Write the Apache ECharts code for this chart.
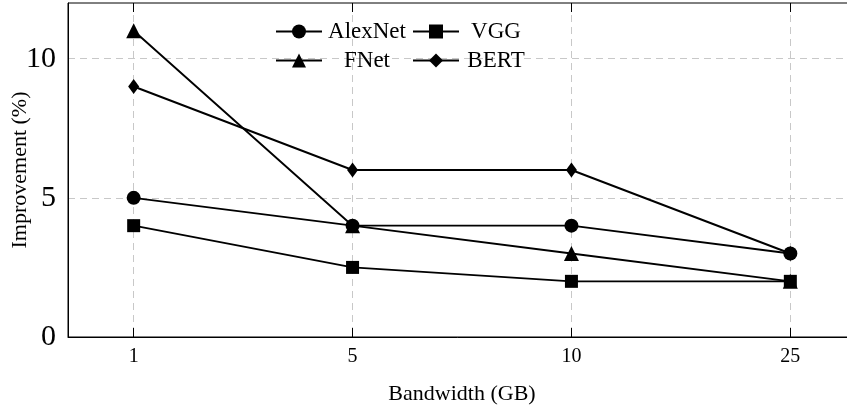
<!DOCTYPE html>
<html>
<head>
<meta charset="utf-8">
<script src="https://cdn.jsdelivr.net/npm/echarts@6/dist/echarts.min.js"></script>
<style>
html,body{margin:0;padding:0;background:#fff;}
#chart{width:847px;height:412px;}
</style>
</head>
<body>
<div id="chart"></div>
<script>
const categories = ['1', '5', '10', '25'];
const alexnet = [5, 4, 4, 3];
const vgg = [4, 2.5, 2, 2];
const fnet = [11, 4, 3, 2];
const bert = [9, 6, 6, 3];
const yTicks = [0, 5, 10];
const xIdx = categories.map((c, i) => i);

const FONT = '"Liberation Serif", "Times New Roman", serif';
const chart = echarts.init(document.getElementById('chart'), null, {renderer: 'canvas'});

function pts(arr) { return arr.map((v, i) => [i, v]); }
const lineStyle = {color: '#000', width: 1.9};
function mk(name, data, symbol, size) {
  return {
    name: name, type: 'line', data: pts(data), symbol: symbol, symbolSize: size,
    lineStyle: lineStyle, itemStyle: {color: '#000'}, color: '#000',
    showSymbol: true, animation: false, z: 3
  };
}
function legendItem(name, left, top, textWidth) {
  return {
    top: top, left: left, padding: 0, orient: 'horizontal',
    itemWidth: 46, itemHeight: 17.5, itemGap: 0,
    data: [name],
    formatter: n => '{a|' + n + '}',
    textStyle: {
      color: '#000', fontFamily: FONT, fontSize: 23,
      rich: {a: {width: textWidth, align: 'center', fontFamily: FONT, fontSize: 23, color: '#000'}}
    }
  };
}

const option = {
  animation: false,
  backgroundColor: '#fff',
  grid: {left: 68, right: -9, top: 3, bottom: 75, outerBoundsMode: 'none', containLabel: false,
    show: true, borderColor: '#000', borderWidth: 1, backgroundColor: 'transparent'},
  legend: [
    legendItem('AlexNet', 275, 20, 80),
    legendItem('VGG', 412, 20, 64),
    legendItem('FNet', 275, 49, 80),
    legendItem('BERT', 412, 49, 64)
  ],
  xAxis: [{
    type: 'value', min: -0.3, max: 3.3,
    name: 'Bandwidth (GB)', nameLocation: 'middle', nameGap: 46, nameMoveOverlap: false,
    nameTextStyle: {fontFamily: FONT, fontSize: 22, color: '#000'},
    axisLine: {show: true, onZero: false, lineStyle: {color: '#000', width: 1}},
    axisTick: {show: true, inside: true, length: 9, customValues: xIdx, lineStyle: {color: '#000', width: 1}},
    axisLabel: {show: true, customValues: xIdx, margin: 10, fontFamily: FONT, fontSize: 20, color: '#000',
      formatter: v => categories[Math.round(v)]},
    splitLine: {show: true, customValues: xIdx, lineStyle: {color: '#c8c8c8', type: [7, 5], width: 1}}
  }, {
    type: 'value', min: -0.3, max: 3.3, position: 'top',
    axisLine: {show: false, onZero: false},
    axisTick: {show: true, inside: true, length: 9, customValues: xIdx, lineStyle: {color: '#000', width: 1}},
    axisLabel: {show: false},
    splitLine: {show: false}
  }],
  yAxis: {
    type: 'value', min: 0, max: 12,
    name: 'Improvement (%)', nameLocation: 'middle', nameGap: 37, nameMoveOverlap: false,
    nameTextStyle: {fontFamily: FONT, fontSize: 22, color: '#000'},
    axisLine: {show: true, onZero: false, lineStyle: {color: '#000', width: 1}},
    axisTick: {show: false, customValues: yTicks},
    axisLabel: {customValues: yTicks, margin: 12, fontFamily: FONT, fontSize: 30, color: '#000'},
    splitLine: {show: true, customValues: yTicks, lineStyle: {color: '#c8c8c8', type: [7, 5], width: 1}}
  },
  series: [
    mk('AlexNet', alexnet, 'circle', 14),
    mk('VGG', vgg, 'rect', 13),
    mk('FNet', fnet, 'triangle', 15),
    mk('BERT', bert, 'diamond', [11, 15])
  ]
};
chart.setOption(option);
</script>
</body>
</html>
